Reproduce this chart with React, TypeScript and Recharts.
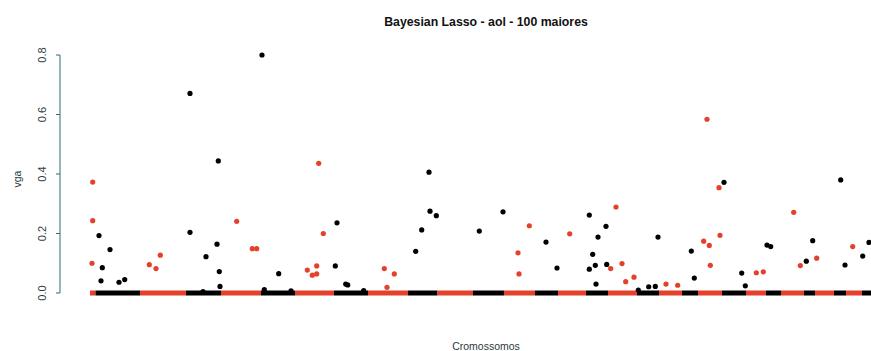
import {
    ReferenceLine,
    Scatter,
    ScatterChart,
    XAxis,
    YAxis,
} from "recharts";

// chromosome boundaries along the genome (cumulative position)
const chromBounds = [
    0, 5.5, 50, 96, 131, 171, 205, 244, 278, 318, 347.5, 383, 414, 445, 468,
    496, 518, 547, 569, 592, 608, 632, 656, 676, 691, 714, 725, 744, 756, 772,
    800,
];

// 100 largest effects: genome position and vga
const effPos = [
    2.7, 2.7, 2, 9, 12.3, 11, 20, 29, 34.7, 59.3, 66, 70.3, 100, 100, 116, 113,
    128.3, 127, 129.3, 130, 146.7, 162.3, 166.7, 172, 174.3, 188.7, 201, 228.7,
    233.3, 217.3, 222.3, 226.7, 226.7, 247, 245.3, 255.7, 257.7, 273.7, 294.3,
    304.3, 297, 325.7, 331.7, 339, 340, 346.3, 389.3, 413, 428, 429, 439.3, 456,
    467, 479.7, 499.3, 499.3, 502.7, 505.3, 506, 508, 516, 516.7, 520.7, 526,
    532, 535.7, 544, 548.3, 558.7, 565.3, 568, 576, 587.7, 601.3, 604.3, 613.7,
    619.3, 620.3, 617, 629, 634, 630, 651.7, 655.3, 666.3, 673.3, 677, 680.7,
    703.7, 710.3, 716.3, 722.7, 726.7, 750.7, 755, 762.7, 772.7, 779,
];
const effVga = [
    0.373, 0.243, 0.1, 0.193, 0.085, 0.041, 0.146, 0.036, 0.045, 0.095, 0.082,
    0.127, 0.671, 0.204, 0.122, 0.005, 0.444, 0.164, 0.072, 0.022, 0.241, 0.149,
    0.149, 0.8, 0.011, 0.065, 0.007, 0.436, 0.2, 0.077, 0.06, 0.064, 0.091,
    0.236, 0.091, 0.03, 0.027, 0.008, 0.082, 0.064, 0.019, 0.14, 0.212, 0.406,
    0.275, 0.26, 0.208, 0.273, 0.135, 0.064, 0.226, 0.171, 0.084, 0.199, 0.262,
    0.08, 0.13, 0.093, 0.03, 0.188, 0.224, 0.096, 0.082, 0.289, 0.099, 0.038,
    0.053, 0.01, 0.021, 0.022, 0.188, 0.03, 0.026, 0.141, 0.05, 0.174, 0.16,
    0.093, 0.584, 0.354, 0.372, 0.194, 0.067, 0.024, 0.068, 0.071, 0.161, 0.156,
    0.271, 0.092, 0.107, 0.176, 0.117, 0.38, 0.094, 0.156, 0.124, 0.17,
];

const yTicks = [0, 0.2, 0.4, 0.6, 0.8];

const RED = "#e4412c";
const BLACK = "#000000";
const AXIS = "#2f6b78";

const chromColor = (i: number) => (i % 2 === 0 ? RED : BLACK);

const chromOf = (p: number) => {
    for (let i = 0; i < chromBounds.length - 1; i++) {
        if (p < chromBounds[i + 1]) return i;
    }
    return chromBounds.length - 2;
};

const data = effPos.map((pos, i) => ({
    pos,
    vga: effVga[i],
    color: chromColor(chromOf(pos)),
}));

const Dot = (props: any) => (
    <circle cx={props.cx} cy={props.cy} r={2.6} fill={props.payload.color} />
);

const YTick = (props: any) => {
    const { x, y, payload } = props;
    const bx = x - 10;
    return (
        <text
            x={bx}
            y={y}
            transform={`rotate(-90 ${bx} ${y})`}
            textAnchor="middle"
            fontSize={11}
            fill="#2f3d42"
            fontFamily="Liberation Sans, Arial, sans-serif"
        >
            {payload.value.toFixed(1)}
        </text>
    );
};

const font = "Liberation Sans, Arial, sans-serif";

export default function App() {
    return (
        <div
            style={{
                position: "absolute",
                left: 0,
                top: 0,
                width: 871,
                height: 351,
                background: "#fff",
                fontFamily: font,
            }}
        >
            <div
                style={{
                    position: "absolute",
                    left: 286,
                    width: 400,
                    top: 14.5,
                    textAlign: "center",
                    fontWeight: "bold",
                    fontSize: 12.3,
                    color: "#111",
                }}
            >
                Bayesian Lasso - aol - 100 maiores
            </div>
            <div
                style={{
                    position: "absolute",
                    left: 386,
                    width: 200,
                    top: 339.5,
                    textAlign: "center",
                    fontSize: 10.5,
                    color: "#2b3a40",
                }}
            >
                Cromossomos
            </div>
            <div
                style={{
                    position: "absolute",
                    left: 17,
                    top: 178.5,
                    transform: "translate(-50%, -50%) rotate(-90deg)",
                    fontSize: 10.5,
                    color: "#2b3a40",
                    whiteSpace: "nowrap",
                }}
            >
                vga
            </div>
            <ScatterChart
                width={871}
                height={351}
                margin={{ top: 45.5, right: 0, bottom: 48.5, left: 0 }}
            >
                <XAxis
                    type="number"
                    dataKey="pos"
                    domain={[-30, 781]}
                    allowDataOverflow
                    hide
                />
                <YAxis
                    type="number"
                    dataKey="vga"
                    domain={[-0.032, 0.832]}
                    ticks={yTicks}
                    width={60}
                    axisLine={false}
                    tickLine={{ stroke: AXIS }}
                    tickSize={4}
                    tickMargin={0}
                    tick={<YTick />}
                    allowDataOverflow
                />
                <ReferenceLine
                    segment={[
                        { x: -30, y: 0 },
                        { x: -30, y: 0.8 },
                    ]}
                    stroke={AXIS}
                    strokeWidth={1}
                    ifOverflow="visible"
                />
                {chromBounds.slice(0, -1).map((start, i) => (
                    <ReferenceLine
                        key={i}
                        segment={[
                            { x: start, y: 0 },
                            { x: chromBounds[i + 1], y: 0 },
                        ]}
                        stroke={chromColor(i)}
                        strokeWidth={5}
                        ifOverflow="hidden"
                    />
                ))}
                <Scatter
                    data={data}
                    shape={<Dot />}
                    isAnimationActive={false}
                />
            </ScatterChart>
        </div>
    );
}
